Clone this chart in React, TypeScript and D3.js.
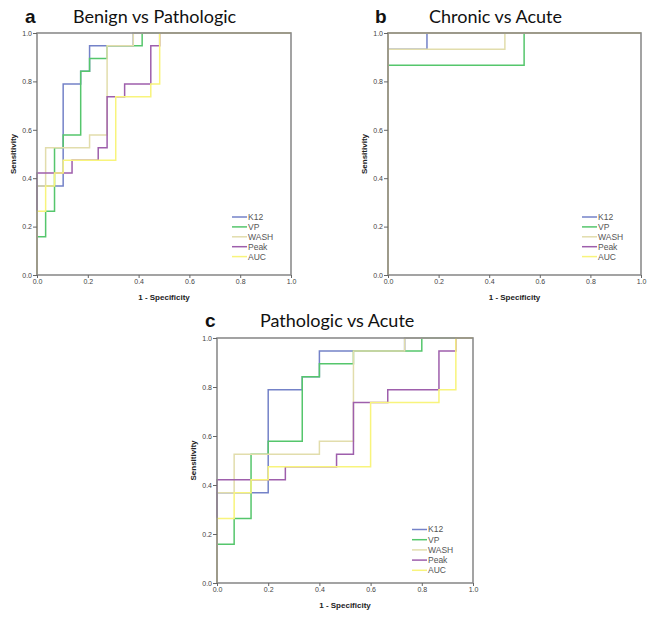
import React, { useEffect, useRef } from 'react';
import * as d3 from 'd3';

type Pt = [number, number];

const seriesNames = ['K12', 'VP', 'WASH', 'Peak', 'AUC'];
const seriesColors = ['#7482c8', '#55c66c', '#e2ddac', '#9e5fac', '#f8f47c'];
const tickValues = [0, 0.2, 0.4, 0.6, 0.8, 1.0];

// a: Benign vs Pathologic
const k12A: Pt[] = [[0, 0], [0, 0.368], [0.103, 0.368], [0.103, 0.789], [0.172, 0.789], [0.172, 0.842], [0.207, 0.842], [0.207, 0.947], [0.379, 0.947], [0.379, 1], [1, 1]];
const vpA: Pt[] = [[0, 0], [0, 0.158], [0.034, 0.158], [0.034, 0.263], [0.069, 0.263], [0.069, 0.526], [0.103, 0.526], [0.103, 0.579], [0.172, 0.579], [0.172, 0.842], [0.207, 0.842], [0.207, 0.895], [0.276, 0.895], [0.276, 0.947], [0.414, 0.947], [0.414, 1], [1, 1]];
const washA: Pt[] = [[0, 0], [0, 0.368], [0.034, 0.368], [0.034, 0.526], [0.207, 0.526], [0.207, 0.579], [0.276, 0.579], [0.276, 0.947], [0.379, 0.947], [0.379, 1], [1, 1]];
const peakA: Pt[] = [[0, 0], [0, 0.421], [0.138, 0.421], [0.138, 0.474], [0.241, 0.474], [0.241, 0.526], [0.276, 0.526], [0.276, 0.737], [0.345, 0.737], [0.345, 0.789], [0.448, 0.789], [0.448, 0.947], [0.483, 0.947], [0.483, 1], [1, 1]];
const aucA: Pt[] = [[0, 0], [0, 0.263], [0.034, 0.263], [0.034, 0.368], [0.069, 0.368], [0.069, 0.421], [0.103, 0.421], [0.103, 0.474], [0.31, 0.474], [0.31, 0.737], [0.448, 0.737], [0.448, 0.789], [0.483, 0.789], [0.483, 1], [1, 1]];

// b: Chronic vs Acute
const k12B: Pt[] = [[0, 0], [0, 0.933], [0.154, 0.933], [0.154, 1], [1, 1]];
const vpB: Pt[] = [[0, 0], [0, 0.867], [0.538, 0.867], [0.538, 1], [1, 1]];
const washB: Pt[] = [[0, 0], [0, 0.933], [0.462, 0.933], [0.462, 1], [1, 1]];
const peakB: Pt[] = [[0, 0], [0, 1], [1, 1]];
const aucB: Pt[] = [[0, 0], [0, 1], [1, 1]];

// c: Pathologic vs Acute
const k12C: Pt[] = [[0, 0], [0, 0.368], [0.2, 0.368], [0.2, 0.789], [0.333, 0.789], [0.333, 0.842], [0.4, 0.842], [0.4, 0.947], [0.733, 0.947], [0.733, 1], [1, 1]];
const vpC: Pt[] = [[0, 0], [0, 0.158], [0.067, 0.158], [0.067, 0.263], [0.133, 0.263], [0.133, 0.526], [0.2, 0.526], [0.2, 0.579], [0.333, 0.579], [0.333, 0.842], [0.4, 0.842], [0.4, 0.895], [0.533, 0.895], [0.533, 0.947], [0.8, 0.947], [0.8, 1], [1, 1]];
const washC: Pt[] = [[0, 0], [0, 0.368], [0.067, 0.368], [0.067, 0.526], [0.4, 0.526], [0.4, 0.579], [0.533, 0.579], [0.533, 0.947], [0.733, 0.947], [0.733, 1], [1, 1]];
const peakC: Pt[] = [[0, 0], [0, 0.421], [0.267, 0.421], [0.267, 0.474], [0.467, 0.474], [0.467, 0.526], [0.533, 0.526], [0.533, 0.737], [0.667, 0.737], [0.667, 0.789], [0.867, 0.789], [0.867, 0.947], [0.933, 0.947], [0.933, 1], [1, 1]];
const aucC: Pt[] = [[0, 0], [0, 0.263], [0.067, 0.263], [0.067, 0.368], [0.133, 0.368], [0.133, 0.421], [0.2, 0.421], [0.2, 0.474], [0.6, 0.474], [0.6, 0.737], [0.867, 0.737], [0.867, 0.789], [0.933, 0.789], [0.933, 1], [1, 1]];

const panels = [
    { letter: 'a', title: 'Benign vs Pathologic', series: [k12A, vpA, washA, peakA, aucA],
      left: 37, right: 291, top: 33, bottom: 275, letterX: 25, titleX: 73, titleY: 23,
      legendX: 232, legendY: 217, legendStep: 9.9 },
    { letter: 'b', title: 'Chronic vs Acute', series: [k12B, vpB, washB, peakB, aucB],
      left: 388, right: 641, top: 33, bottom: 275, letterX: 375, titleX: 429, titleY: 23,
      legendX: 582, legendY: 217, legendStep: 9.9 },
    { letter: 'c', title: 'Pathologic vs Acute', series: [k12C, vpC, washC, peakC, aucC],
      left: 217, right: 473, top: 338, bottom: 583, letterX: 205, titleX: 260, titleY: 327,
      legendX: 412, legendY: 529.5, legendStep: 10.2 },
];

const App = () => {
    const svgRef = useRef<SVGSVGElement>(null);

    useEffect(() => {
        if (!svgRef.current) return;
        const svg = d3.select(svgRef.current);
        svg.selectAll('*').remove();

        svg.append('rect').attr('width', 654).attr('height', 618).attr('fill', '#fff');

        panels.forEach(p => {
            const x = d3.scaleLinear().domain([0, 1]).range([p.left, p.right]);
            const y = d3.scaleLinear().domain([0, 1]).range([p.bottom, p.top]);
            const g = svg.append('g');

            // Panel letter and title
            g.append('text')
                .attr('x', p.letterX).attr('y', p.titleY)
                .style('font-family', 'Liberation Sans, Arial, sans-serif')
                .style('font-weight', 'bold').style('font-size', '19px')
                .attr('fill', '#111').text(p.letter);
            g.append('text')
                .attr('x', p.titleX).attr('y', p.titleY)
                .style('font-family', 'Lato, sans-serif')
                .style('font-size', '18px')
                .attr('fill', '#111').text(p.title);

            // Curves
            const line = d3.line<Pt>().x(d => x(d[0])).y(d => y(d[1]));
            p.series.forEach((s, i) => {
                g.append('path')
                    .datum(s)
                    .attr('fill', 'none')
                    .attr('stroke', seriesColors[i])
                    .attr('stroke-width', 1.5)
                    .attr('d', line);
            });

            // Frame
            g.append('rect')
                .attr('x', p.left).attr('y', p.top)
                .attr('width', p.right - p.left).attr('height', p.bottom - p.top)
                .attr('fill', 'none').attr('stroke', '#8c8c8c').attr('stroke-width', 1.6);

            // Axes
            const fmt = d3.format('.1f');
            const yAxis = g.append('g')
                .attr('transform', `translate(${p.left},0)`)
                .call(d3.axisLeft(y).tickValues(tickValues).tickFormat(fmt).tickSize(4).tickPadding(1));
            const xAxis = g.append('g')
                .attr('transform', `translate(0,${p.bottom})`)
                .call(d3.axisBottom(x).tickValues(tickValues).tickFormat(fmt).tickSize(3).tickPadding(1));
            [yAxis, xAxis].forEach(ax => {
                ax.select('.domain').remove();
                ax.selectAll('line').attr('stroke', '#666');
                ax.selectAll('text')
                    .attr('fill', '#444')
                    .style('font-family', 'Liberation Sans, Arial, sans-serif')
                    .style('font-size', '7px');
            });

            // Axis titles
            g.append('text')
                .attr('transform', `translate(${p.left - 24},${(p.top + p.bottom) / 2}) rotate(-90)`)
                .attr('text-anchor', 'middle')
                .attr('dy', '0.35em')
                .style('font-family', 'Liberation Sans, Arial, sans-serif')
                .style('font-weight', 'bold').style('font-size', '8px')
                .attr('fill', '#222').text('Sensitivity');
            g.append('text')
                .attr('x', (p.left + p.right) / 2).attr('y', p.bottom + 25)
                .attr('text-anchor', 'middle')
                .style('font-family', 'Liberation Sans, Arial, sans-serif')
                .style('font-weight', 'bold').style('font-size', '8px')
                .attr('fill', '#222').text('1 - Specificity');

            // Legend
            seriesNames.forEach((name, i) => {
                const ly = p.legendY + i * p.legendStep;
                g.append('line')
                    .attr('x1', p.legendX).attr('x2', p.legendX + 15)
                    .attr('y1', ly).attr('y2', ly)
                    .attr('stroke', seriesColors[i]).attr('stroke-width', 1.5);
                g.append('text')
                    .attr('x', p.legendX + 16).attr('y', ly).attr('dy', '0.35em')
                    .style('font-family', 'Liberation Sans, Arial, sans-serif')
                    .style('font-size', '8.5px')
                    .attr('fill', '#555').text(name);
            });
        });
    }, []);

    return (
        <svg ref={svgRef} width={654} height={618}
            style={{ position: 'absolute', left: 0, top: 0, display: 'block' }} />
    );
};

export default App;
